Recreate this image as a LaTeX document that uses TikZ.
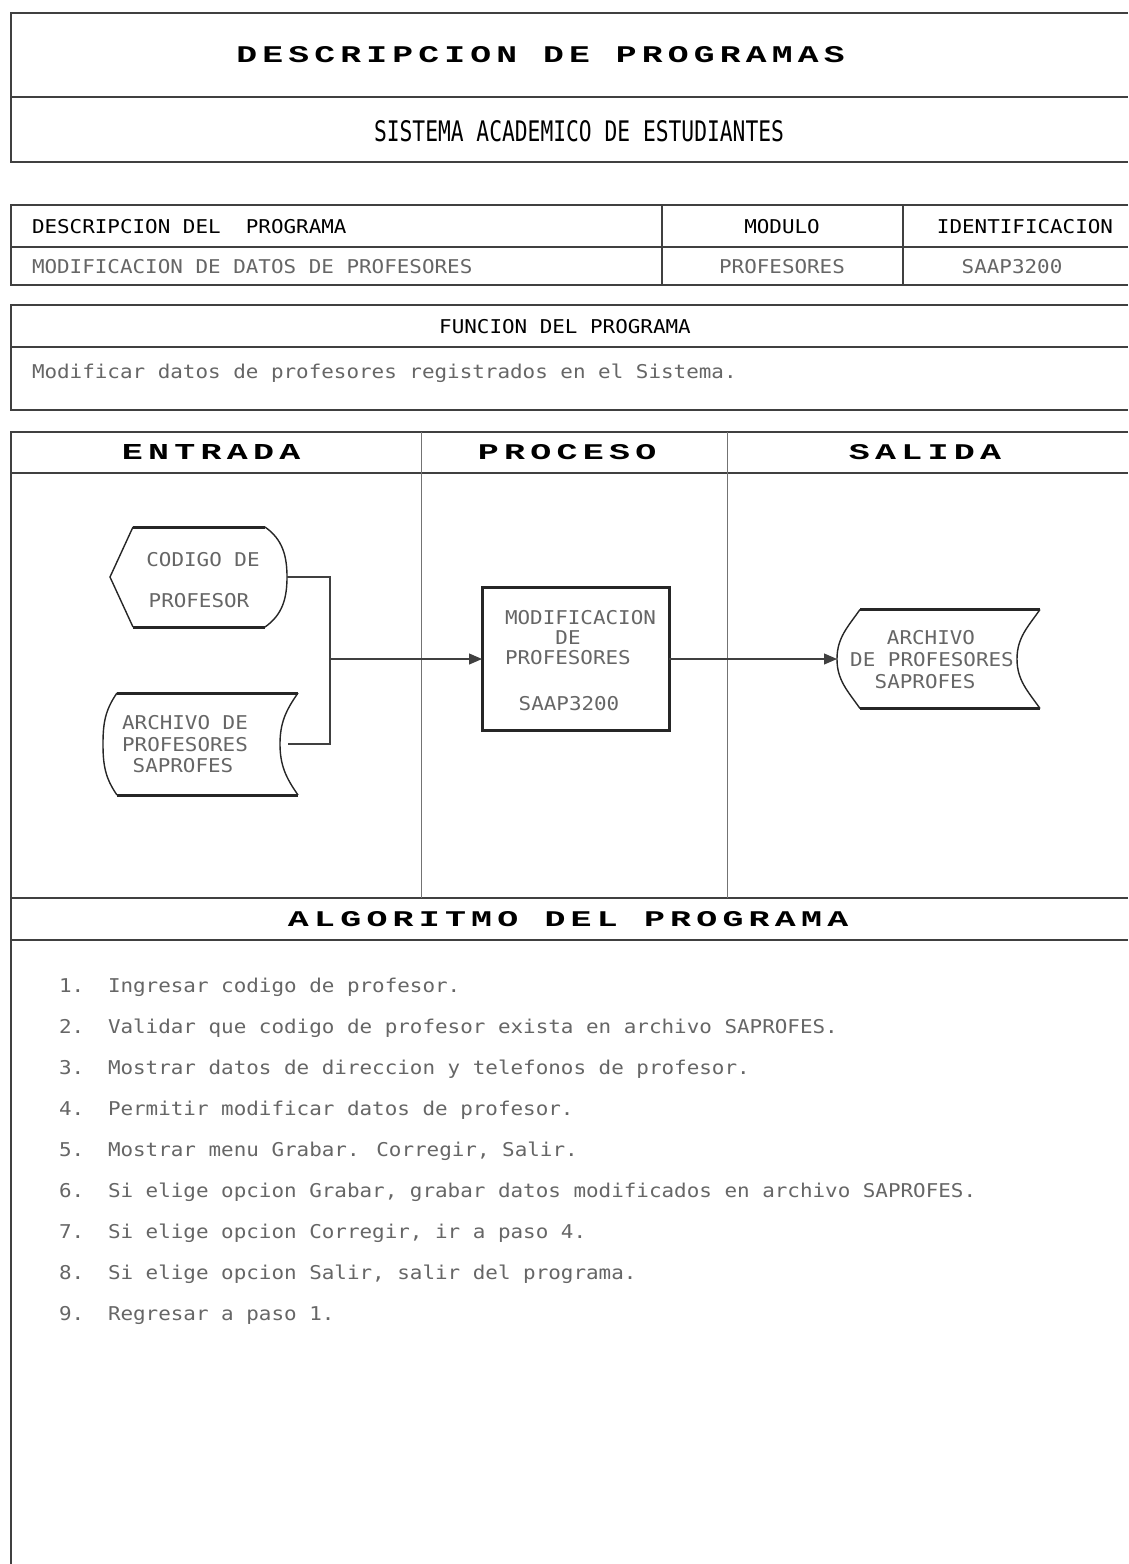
\documentclass[tikz,border=0pt]{standalone}
\usepackage{fontspec}
\usetikzlibrary{arrows.meta}
\newfontfamily\dmfont{DejaVu Sans Mono}[FakeStretch=1.1]
\newfontfamily\ttlfont{Liberation Mono}[LetterSpace=15]
\newcommand\dmsize{\fontsize{19}{21}\selectfont}
\newcommand\ttlbox[3]{\resizebox{#1pt}{#2pt}{\ttlfont\bfseries\fontsize{20}{22}\selectfont #3\kern-0.15em}}
\newcommand\dmbox[3]{\resizebox{#1pt}{#2pt}{\dmfont\fontsize{20}{22}\selectfont #3}}
\tikzset{
  boxline/.style={line width=1.6pt, draw=black!75},
  colline/.style={line width=0.9pt, draw=black!55},
  conn/.style={line width=1.1pt, draw=black!75},
  arr/.style={conn, -{Triangle[length=13pt,width=11pt]}},
  txt/.style={inner sep=0pt, outer sep=0pt, text=black!85, font=\dmfont\dmsize},
  lighttxt/.style={txt, text=black!60},
  headtxt/.style={inner sep=0pt, outer sep=0pt, text=black},
  shapeside/.style={line width=1.4pt, draw=black!85},
  shapeedge/.style={line width=3pt, draw=black!85},
  ghost/.style={inner sep=0pt, outer sep=0pt, draw=none},
}
\begin{document}
\begin{tikzpicture}[x=1pt,y=-1pt]
\useasboundingbox (0,0) rectangle (1128,1564);
\fill[white] (0,0) rectangle (1128,1564);

% ---------- top title box
\draw[boxline] (1128,13) -- (11,13) -- (11,162) -- (1128,162);
\draw[boxline] (11,97) -- (1128,97);
\node[headtxt] (title) at (538,55) {\ttlbox{603}{16}{DESCRIPCION DE PROGRAMAS}};
\node[headtxt] (sistema) at (579,131) {\dmbox{410}{21}{SISTEMA ACADEMICO DE ESTUDIANTES}};

% ---------- program table
\draw[boxline] (1128,205) -- (11,205) -- (11,285) -- (1128,285);
\draw[boxline] (11,247) -- (1128,247);
\draw[boxline] (662,205) -- (662,285);
\draw[boxline] (903,205) -- (903,285);
\node[txt, text=black, anchor=base west] (hdesc) at (32,233) {DESCRIPCION DEL~ PROGRAMA};
\node[txt, text=black, anchor=base] (hmod) at (782,233) {MODULO};
\node[txt, text=black, anchor=base] (hid) at (1025,233) {IDENTIFICACION};
\node[lighttxt, anchor=base west] (vdesc) at (32,273) {MODIFICACION DE DATOS DE PROFESORES};
\node[lighttxt, anchor=base] (vmod) at (782,273) {PROFESORES};
\node[lighttxt, anchor=base] (vid) at (1012,273) {SAAP3200};

% ---------- function box
\draw[boxline] (1128,305) -- (11,305) -- (11,410) -- (1128,410);
\draw[boxline] (11,347) -- (1128,347);
\node[txt, text=black, anchor=base] (hfun) at (565,333) {FUNCION DEL PROGRAMA};
\node[lighttxt, anchor=base west] (vfun) at (32,378) {Modificar datos de profesores registrados en el Sistema.};

% ---------- flow box
\draw[boxline] (1128,432) -- (11,432) -- (11,1564);
\draw[boxline] (11,473) -- (1128,473);
\draw[boxline] (11,898) -- (1128,898);
\draw[boxline] (11,940) -- (1128,940);
\draw[colline] (421,432) -- (421,898);
\draw[colline] (727,432) -- (727,898);
\node[headtxt] (entrada) at (208.5,452) {\ttlbox{173}{15}{ENTRADA}};
\node[headtxt] (proceso) at (564.5,452) {\ttlbox{173}{15}{PROCESO}};
\node[headtxt] (salida) at (922.5,452) {\ttlbox{147}{15}{SALIDA}};
\node[headtxt] (algo) at (565.5,919) {\ttlbox{555}{15}{ALGORITMO DEL PROGRAMA}};

% input: display shape
\node[ghost, minimum width=177pt, minimum height=100pt] (cod) at (198.5,577) {};
\draw[shapeedge] (133,527) -- (265,527);
\draw[shapeedge] (133,627) -- (265,627);
\draw[shapeside] (133,527) -- (110,577) -- (133,627);
\draw[shapeside] (265,527) to[out=-35,in=90] (287,577) to[out=-90,in=35] (265,627);
\node[lighttxt, anchor=base] (codt1) at (203,566) {CODIGO DE};
\node[lighttxt, anchor=base] (codt2) at (199,607) {PROFESOR};

% input: stored data shape
\node[ghost, minimum width=195pt, minimum height=102pt] (arch) at (200.5,744) {};
\draw[shapeedge] (117,693) -- (298,693);
\draw[shapeedge] (117,795) -- (298,795);
\draw[shapeside] (117,693) to[out=-125,in=90] (103,744) to[out=-90,in=125] (117,795);
\draw[shapeside] (298,693) to[out=-125,in=90] (280,744) to[out=-90,in=125] (298,795);
\node[lighttxt, anchor=base] (archt1) at (185,729) {ARCHIVO DE};
\node[lighttxt, anchor=base] (archt2) at (185,751) {PROFESORES};
\node[lighttxt, anchor=base] (archt3) at (183,772) {SAPROFES};
\coordinate (archout) at (288,744);

% process box
\node[draw=black!85, line width=3pt, minimum width=187pt, minimum height=143pt, inner sep=0pt, outer sep=0pt] (proc) at (575.5,659) {};
\node[lighttxt, anchor=base west] (proct1) at (505,624) {MODIFICACION};
\node[lighttxt, anchor=base] (proct2) at (568,644) {DE};
\node[lighttxt, anchor=base west] (proct3) at (505,664) {PROFESORES};
\node[lighttxt, anchor=base] (proct4) at (569,710) {SAAP3200};

% output stored data shape
\node[ghost, minimum width=203pt, minimum height=99pt] (outs) at (938.5,659) {};
\draw[shapeedge] (860,609.5) -- (1040,609.5);
\draw[shapeedge] (860,708.5) -- (1040,708.5);
\draw[shapeside] (860,609.5) to[out=-125,in=90] (837,659) to[out=-90,in=125] (860,708.5);
\draw[shapeside] (1040,609.5) to[out=-125,in=90] (1017,659) to[out=-90,in=125] (1040,708.5);
\node[lighttxt, anchor=base] (outt1) at (931,644) {ARCHIVO};
\node[lighttxt, anchor=base] (outt2) at (932,666) {DE PROFESORES};
\node[lighttxt, anchor=base] (outt3) at (925,688) {SAPROFES};

% connectors
\coordinate (jn) at (330,659);
\draw[conn] (cod.east) -| (jn);
\draw[conn] (archout) -| (jn);
\draw[arr] (jn) -- (proc.west);
\draw[arr] (proc.east) -- (outs.west);

% algorithm steps
\node[lighttxt, anchor=base west] (n1) at (59,992) {1.};
\node[lighttxt, anchor=base west] (s1) at (108,992) {Ingresar codigo de profesor.};
\node[lighttxt, anchor=base west] (n2) at (59,1033) {2.};
\node[lighttxt, anchor=base west] (s2) at (108,1033) {Validar que codigo de profesor exista en archivo SAPROFES.};
\node[lighttxt, anchor=base west] (n3) at (59,1074) {3.};
\node[lighttxt, anchor=base west] (s3) at (108,1074) {Mostrar datos de direccion y telefonos de profesor.};
\node[lighttxt, anchor=base west] (n4) at (59,1115) {4.};
\node[lighttxt, anchor=base west] (s4) at (108,1115) {Permitir modificar datos de profesor.};
\node[lighttxt, anchor=base west] (n5) at (59,1156) {5.};
\node[lighttxt, anchor=base west] (s5) at (108,1156) {Mostrar menu Grabar. Corregir, Salir.};
\node[lighttxt, anchor=base west] (n6) at (59,1197) {6.};
\node[lighttxt, anchor=base west] (s6) at (108,1197) {Si elige opcion Grabar, grabar datos modificados en archivo SAPROFES.};
\node[lighttxt, anchor=base west] (n7) at (59,1238) {7.};
\node[lighttxt, anchor=base west] (s7) at (108,1238) {Si elige opcion Corregir, ir a paso 4.};
\node[lighttxt, anchor=base west] (n8) at (59,1279) {8.};
\node[lighttxt, anchor=base west] (s8) at (108,1279) {Si elige opcion Salir, salir del programa.};
\node[lighttxt, anchor=base west] (n9) at (59,1320) {9.};
\node[lighttxt, anchor=base west] (s9) at (108,1320) {Regresar a paso 1.};
\end{tikzpicture}
\end{document}
